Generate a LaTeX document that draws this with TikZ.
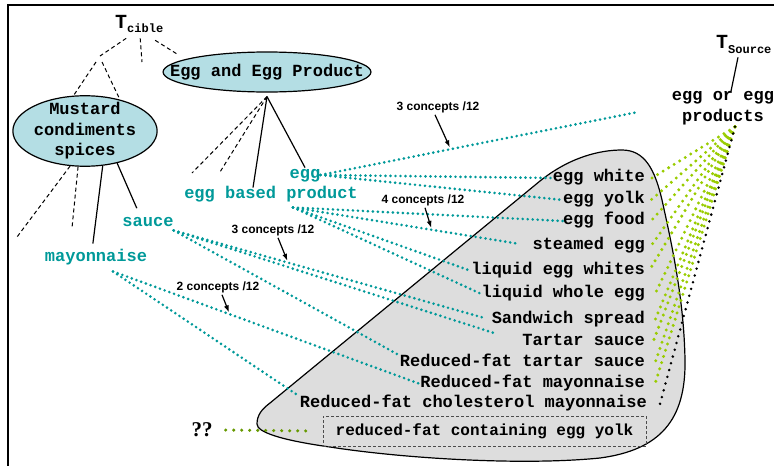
\documentclass[tikz,border=0pt]{standalone}
\usepackage{fontspec}
\setmainfont{Liberation Serif}
\setsansfont{Liberation Sans}
\setmonofont{Liberation Mono}
\usetikzlibrary{shapes.geometric,arrows.meta,positioning}

\definecolor{eggteal}{RGB}{0,153,153}
\definecolor{egggreen}{RGB}{153,204,0}
\definecolor{olivegreen}{RGB}{102,153,0}
\definecolor{classblue}{RGB}{180,222,228}
\definecolor{setgray}{RGB}{221,221,221}

\newcommand{\cfont}{\ttfamily\bfseries\fontsize{17}{20.5}\selectfont}

\begin{document}
\begin{tikzpicture}[x=1pt,y=-1pt,
  cls/.style={ellipse, draw, line width=1.2pt, fill=classblue, inner sep=0pt, align=center, font=\cfont},
  concept/.style={font=\cfont, text=eggteal, inner sep=0pt, text height=11pt, text depth=3.5pt},
  item/.style={font=\cfont, anchor=east, inner sep=0pt, text height=11pt, text depth=3.5pt},
  count/.style={font=\sffamily\bfseries\fontsize{12}{14}\selectfont, inner sep=0pt},
  treeline/.style={line width=1.2pt},
  stub/.style={line width=1pt, dash pattern=on 4pt off 3pt},
  tline/.style={eggteal, line width=2.9pt, line cap=round, dash pattern=on 0pt off 5pt},
  gline/.style={egggreen, line width=3.3pt, line cap=round, dash pattern=on 0pt off 6.5pt},
  kline/.style={black, line width=2.8pt, line cap=round, dash pattern=on 0pt off 7pt},
  oline/.style={olivegreen, line width=3.4pt, line cap=round, dash pattern=on 0pt off 8pt},
  arrow/.style={-{Latex[length=7pt,width=5pt]}, line width=1.2pt, shorten >=2pt}
]
  \useasboundingbox (0,0) rectangle (774,466);

  % frame
  \draw[line width=1.5pt] (8,466) -- (8,5) -- (774,5);

  % the set of source concepts
  \draw[line width=1.2pt, fill=setgray] (270,403) -- (540,181)
    .. controls (570,157) and (600,150) .. (622,150)
    .. controls (645,150) and (655,170) .. (662,200)
    .. controls (672,245) and (684,300) .. (685,360)
    .. controls (686,420) and (660,450) .. (600,458)
    .. controls (520,466) and (400,458) .. (330,447)
    .. controls (280,440) and (257,432) .. (257,424)
    .. controls (257,415) and (262,409) .. (270,403) -- cycle;

  % target taxonomy
  \node[font=\ttfamily\bfseries, anchor=base west, inner sep=0pt] (tc) at (115,28)
    {{\fontsize{20}{20}\selectfont T}\raisebox{-4pt}{\fontsize{12}{12}\selectfont cible}};
  \node[cls, minimum width=140pt, minimum height=70pt, inner ysep=-3.5pt] (mus) at (85,131) {Mustard\\condiments\\spices};
  \node[cls, minimum height=40pt] (eep) at (267,72) {\makebox[147pt]{Egg and Egg Product}};

  \node[concept] (egg) at (305,175) {egg};
  \node[concept] (ebp) at (271,195) {egg based product};
  \node[concept] (sauce) at (148,223) {sauce};
  \node[concept] (mayo) at (96,258) {mayonnaise};

  \coordinate (fork) at (100,56);
  \coordinate (forkL) at (96,62);
  \coordinate (forkR) at (102,62);
  \coordinate (stubV) at (142,62);
  \coordinate (stubE) at (177,54);
  \coordinate (stubA) at (192,173);
  \coordinate (stubB) at (220,172);
  \coordinate (stubC) at (17,237);
  \coordinate (stubD) at (72,228);

  \draw[stub] ([shift={(-13pt,-6pt)}]tc.south) -- (fork);
  \draw[stub] (forkL) -- (mus.108);
  \draw[stub] (forkR) -- (mus.42);
  \draw[stub] ([shift={(1pt,-6pt)}]tc.south) -- (stubV);
  \draw[stub] ([shift={(16pt,-8pt)}]tc.south) -- (stubE);

  \draw[stub] ([yshift=-4pt]eep.south) -- (stubA);
  \draw[stub] ([yshift=-4pt]eep.south) -- (stubB);
  \draw[treeline] ([yshift=-4pt]eep.south) -- ([xshift=-18pt]ebp.north);
  \draw[treeline] ([yshift=-4pt]eep.south) -- (egg.north);

  \draw[stub] (mus.-113) -- (stubC);
  \draw[stub] (mus.-101) -- (stubD);
  \draw[treeline, shorten >=7pt] (mus.-63) -- ([xshift=-4pt]mayo.north);
  \draw[treeline, shorten >=8pt] (mus.-45) -- ([xshift=-8pt]sauce.north);

  % source concepts
  \node[item] (ew) at (645,178) {egg white};
  \node[item] (ey) at (645,200) {egg yolk};
  \node[item] (ef) at (645,221) {egg food};
  \node[item] (se) at (645,246) {steamed egg};
  \node[item] (lew) at (645,271) {liquid egg whites};
  \node[item] (lwe) at (645,294) {liquid whole egg};
  \node[item] (ss) at (645,320) {Sandwich spread};
  \node[item] (ts) at (645,342) {Tartar sauce};
  \node[item] (rfts) at (645,363) {Reduced-fat tartar sauce};
  \node[item] (rfm) at (645,384) {Reduced-fat mayonnaise};
  \node[item] (rfcm) at (647,404) {Reduced-fat cholesterol mayonnaise};
  \node[font=\ttfamily\bfseries\fontsize{16}{18}\selectfont, draw=black!70, dash pattern=on 3pt off 2pt,
    minimum width=323pt, minimum height=30pt, inner sep=0pt] (rfe) at (484.5,431) {reduced-fat containing egg yolk};
  \node[font=\rmfamily\bfseries\fontsize{21}{21}\selectfont, inner sep=0pt] (qq) at (202,430) {??};

  % source taxonomy
  \node[font=\ttfamily\bfseries, anchor=base west, inner sep=0pt] (tsrc) at (716,48)
    {{\fontsize{20}{20}\selectfont T}\raisebox{-5pt}{\fontsize{12}{12}\selectfont Source}};
  \node[font=\cfont, align=center, inner sep=0pt] (src) at (723,108) {egg or egg\\products};
  \draw[treeline] ([xshift=22pt,yshift=-4pt]tsrc.south west) -- ([xshift=8pt]src.north);

  % mappings
  \coordinate (eggend) at (638,112);
  \draw[tline] (egg.east) -- coordinate[pos=0.41] (p3a) (eggend);
  \draw[tline] (egg.east) -- (ew.west);
  \draw[tline] (egg.east) -- (ey.west);

  \draw[tline] ([xshift=22pt,yshift=-5pt]ebp.south) -- (ef.west);
  \draw[tline, shorten >=15pt] ([xshift=22pt,yshift=-5pt]ebp.south) -- coordinate[pos=0.58] (p4) (se.west);
  \draw[tline] ([xshift=22pt,yshift=-5pt]ebp.south) -- (lew.west);
  \draw[tline] ([xshift=22pt,yshift=-5pt]ebp.south) -- (lwe.west);

  \draw[tline, shorten >=10pt] (sauce.south east) -- coordinate[pos=0.36] (p3b) (ss.west);
  \draw[tline, shorten >=30pt] (sauce.south east) -- (ts.west);
  \draw[tline] (sauce.south east) -- (rfts.north west);

  \draw[tline] ([xshift=17pt,yshift=-6pt]mayo.south) -- coordinate[pos=0.38] (p2) (rfm.west);
  \draw[tline] ([xshift=17pt,yshift=-6pt]mayo.south) -- (rfcm.north west);

  \draw[gline] ([xshift=12pt,yshift=-2pt]src.south) -- ([xshift=7pt]ew.east);
  \draw[gline] ([xshift=12pt,yshift=-2pt]src.south) -- ([xshift=6pt]ey.east);
  \draw[gline] ([xshift=12pt,yshift=-2pt]src.south) -- ([xshift=6pt]ef.east);
  \draw[gline] ([xshift=12pt,yshift=-2pt]src.south) -- ([xshift=6pt]se.east);
  \draw[gline] ([xshift=12pt,yshift=-2pt]src.south) -- ([xshift=4pt]lew.east);
  \draw[gline] ([xshift=12pt,yshift=-2pt]src.south) -- ([xshift=10pt]lwe.east);
  \draw[gline] ([xshift=12pt,yshift=-2pt]src.south) -- ([xshift=10pt]ss.east);
  \draw[gline] ([xshift=12pt,yshift=-2pt]src.south) -- ([xshift=8pt]ts.east);
  \draw[gline] ([xshift=12pt,yshift=-2pt]src.south) -- ([xshift=10pt]rfts.east);
  \draw[gline] ([xshift=12pt,yshift=-2pt]src.south) -- ([xshift=10pt]rfm.east);
  \draw[kline] ([xshift=12pt,yshift=-2pt]src.south) -- ([xshift=13pt]rfcm.east);

  \draw[oline] ([xshift=13pt]qq.east) -- ([xshift=-12pt]rfe.west);

  % concept counts
  \node[count] (n3a) at (438,107) {3 concepts /12};
  \node[count] (n4) at (423,200) {4 concepts /12};
  \node[count] (n3b) at (273,230) {3 concepts /12};
  \node[count] (n2) at (218,287) {2 concepts /12};
  \draw[arrow] ([xshift=-3pt,yshift=-2pt]n3a.south) -- (p3a);
  \draw[arrow] ([xshift=2pt,yshift=-2pt]n4.south) -- (p4);
  \draw[arrow] ([xshift=5pt,yshift=-2pt]n3b.south) -- (p3b);
  \draw[arrow] ([xshift=4pt,yshift=-2pt]n2.south) -- (p2);
\end{tikzpicture}
\end{document}
